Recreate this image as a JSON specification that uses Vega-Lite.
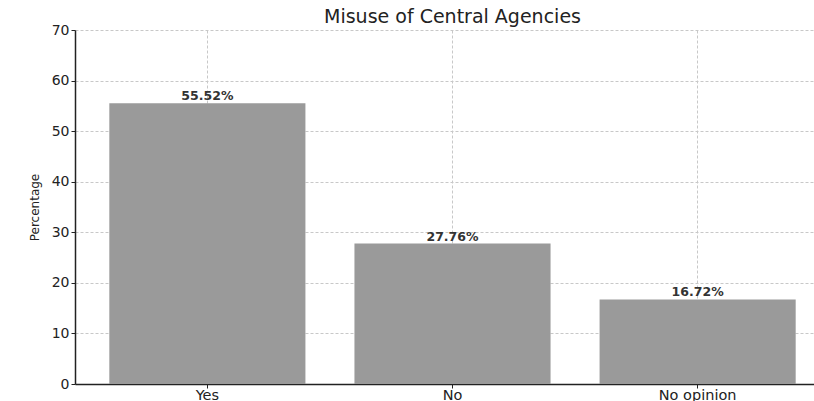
{
  "$schema": "https://vega.github.io/schema/vega-lite/v6.json",
  "autosize": {"type": "none"},
  "width": 755,
  "height": 354,
  "padding": {"left": 75, "top": 30, "right": 0, "bottom": 17},
  "background": "white",
  "title": {"text": "Misuse of Central Agencies", "font": "DejaVu Sans", "fontSize": 19, "fontWeight": "normal", "color": "#222", "offset": -4},
  "data": {"values": [
    {"answer": "Yes", "pct": 55.52, "label": "55.52%"},
    {"answer": "No", "pct": 27.76, "label": "27.76%"},
    {"answer": "No opinion", "pct": 16.72, "label": "16.72%"}
  ]},
  "config": {
    "view": {"stroke": null},
    "axis": {"labelFont": "DejaVu Sans", "titleFont": "DejaVu Sans", "labelColor": "#222", "titleColor": "#222", "domainColor": "#222", "tickColor": "#222", "gridColor": "#c8c8c8", "gridDash": [3, 2], "gridWidth": 1}
  },
  "encoding": {
    "x": {"field": "answer", "type": "nominal", "sort": null,
      "scale": {"paddingInner": 0.2, "paddingOuter": 0.14},
      "axis": {"title": null, "labelAngle": 0, "labelFontSize": 14.5, "grid": true, "bandPosition": 0.5, "tickSize": 4, "domainWidth": 1.5, "labelPadding": 0}},
    "y": {"field": "pct", "type": "quantitative",
      "scale": {"domain": [0, 70], "nice": false},
      "axis": {"title": "Percentage", "titleFontSize": 12, "titleFontWeight": "normal", "titlePadding": 10, "values": [0,10,20,30,40,50,60,70], "labelFontSize": 14, "tickSize": 4, "domainWidth": 1.5, "grid": true}}
  },
  "layer": [
    {"mark": {"type": "bar", "color": "#9a9a9a"}},
    {"mark": {"type": "text", "dy": -7, "font": "DejaVu Sans", "fontSize": 12.5, "fontWeight": "bold", "color": "#333"},
     "encoding": {"text": {"field": "label"}}}
  ]
}
